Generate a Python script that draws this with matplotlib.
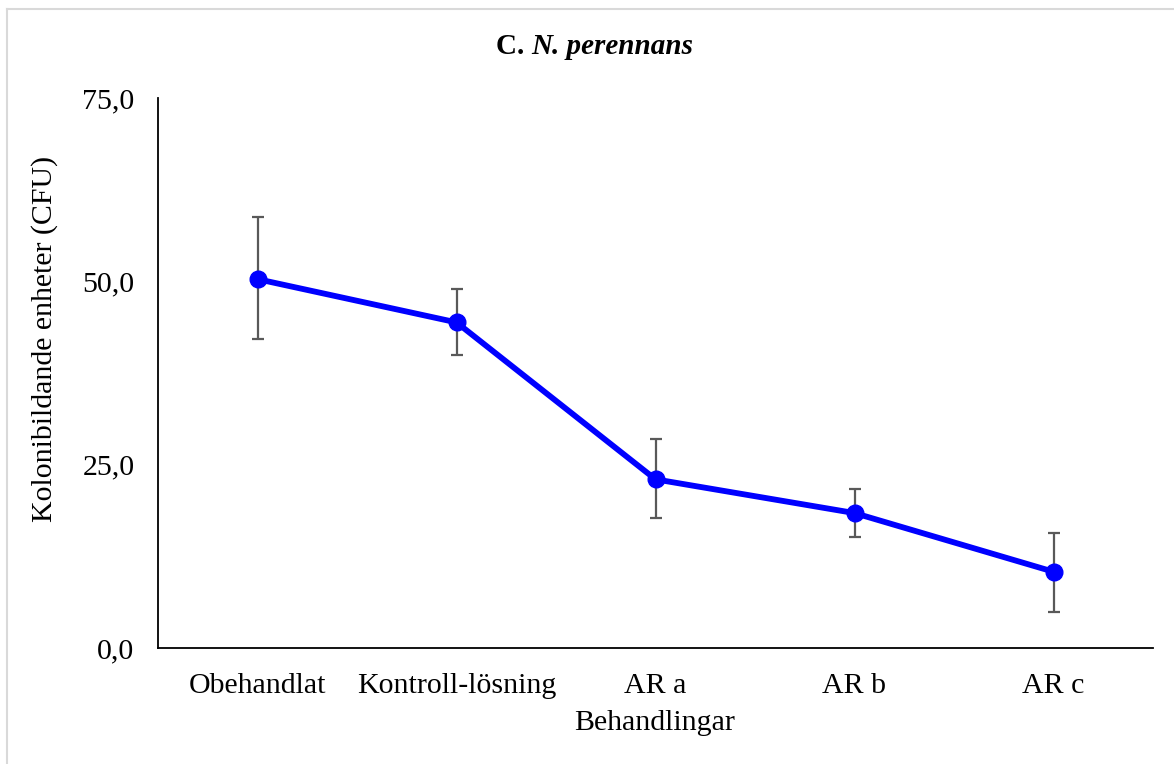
import matplotlib
matplotlib.use("Agg")
import matplotlib.pyplot as plt
from matplotlib.ticker import FuncFormatter

# ---- data -------------------------------------------------------------------
categories = ["Obehandlat", "Kontroll-lösning", "AR a", "AR b", "AR c"]
cfu_mean = [50.3, 44.4, 23.0, 18.4, 10.4]
err_up = [8.5, 4.6, 5.5, 3.3, 5.3]
err_down = [8.2, 4.4, 5.3, 3.3, 5.5]
y_ticks = [0, 25, 50, 75]

# ---- style ------------------------------------------------------------------
SERIF = ["Liberation Serif", "DejaVu Serif"]
BLUE = "#0000ff"
ERR = "#595959"
FS = 21.5
FS_TITLE = 21

plt.rcParams["font.family"] = SERIF

W, H = 1174, 764
fig = plt.figure(figsize=(W / 100, H / 100), dpi=100)
ax = fig.add_axes([158 / W, 1 - 648 / H, (1153 - 158) / W, (648 - 98) / H])

x = list(range(len(categories)))
ax.errorbar(x, cfu_mean, yerr=[err_down, err_up], fmt="none", ecolor=ERR,
            elinewidth=1.6, capsize=4.5, capthick=1.6, zorder=2)
ax.plot(x, cfu_mean, color=BLUE, linewidth=4.2, marker="o", markersize=12,
        zorder=3, solid_capstyle="round")

ax.set_xlim(-0.5, len(categories) - 0.5)
ax.set_ylim(0, 75)
ax.set_yticks(y_ticks)
ax.yaxis.set_major_formatter(FuncFormatter(lambda v, p: f"{v:.1f}".replace(".", ",")))
ax.set_xticks(x)
ax.set_xticklabels(categories)
ax.tick_params(axis="both", length=0, labelsize=FS, colors="black")
ax.tick_params(axis="x", pad=18)
ax.tick_params(axis="y", pad=17)

for s in ("top", "right"):
    ax.spines[s].set_visible(False)
for s in ("left", "bottom"):
    ax.spines[s].set_linewidth(1.3)
    ax.spines[s].set_color("black")

# axis labels
fig.text(45 / W, 1 - 339 / H, "Kolonibildande enheter (CFU)", rotation=90,
         ha="center", va="center", fontsize=FS)
fig.text(655 / W, 1 - 723 / H, "Behandlingar", ha="center", va="center",
         fontsize=FS)

# title: "C." bold + "N. perennans" bold italic, centred as one string
ty = 1 - 47 / H
t1 = fig.text(0, ty, "C. ", fontsize=FS_TITLE, fontweight="bold", va="center")
t2 = fig.text(0, ty, "N. perennans", fontsize=FS_TITLE, fontweight="bold",
              style="italic", va="center")
fig.canvas.draw()
r = fig.canvas.get_renderer()
w1 = t1.get_window_extent(r).width
w2 = t2.get_window_extent(r).width
x0 = 595 - (w1 + w2) / 2
t1.set_x(x0 / W)
t2.set_x((x0 + w1) / W)

# light chart-area border
fig.add_artist(plt.Line2D([7 / W, 7 / W], [0, 1 - 9 / H], color="#d9d9d9",
               linewidth=1.5, transform=fig.transFigure))
fig.add_artist(plt.Line2D([7 / W, 1], [1 - 9 / H, 1 - 9 / H], color="#d9d9d9",
               linewidth=1.5, transform=fig.transFigure))

fig.savefig("out.png", dpi=100, facecolor="white")
